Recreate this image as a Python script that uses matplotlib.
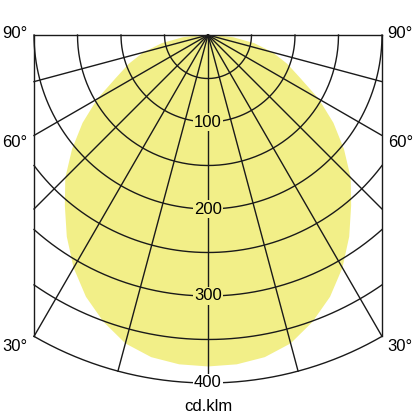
import numpy as np
import matplotlib.pyplot as plt

plt.rcParams['font.family'] = ['Liberation Sans', 'DejaVu Sans']

# luminous intensity (cd/klm) vs angle from nadir, symmetric C-planes
angles = [0, 5, 10, 15, 20, 25, 30, 35, 40, 45, 50, 55, 60, 65, 70, 75, 80, 85, 90]
intensity = [381, 380, 376, 367, 351, 332, 309, 283, 256, 232, 204, 176, 147, 117, 97, 77, 54, 29, 6]

ring_values = [50, 100, 150, 200, 250, 300, 350, 400]
ring_labels = [100, 200, 300, 400]
radial_angles = [0, 15, 30, 45, 60, 75]
side_labels = ['90°', '60°', '30°']
side_label_angles = [90, 60, 30]
unit_label = 'cd.klm'

r_max = 400
half_width = 200  # frame clipped at |x| = r_max * sin(30°)
line_col = '#1a1a1a'
fill_col = '#f2ef88'

fig = plt.figure(figsize=(4.16, 4.16), dpi=100)
ax = fig.add_axes([0, 0, 1, 1])
ax.set_xlim(-239.1, 239.1)
ax.set_ylim(437.9, -40.2)
ax.set_aspect('equal')
ax.axis('off')

# light distribution curve
th = np.radians(angles)
r = np.array(intensity, dtype=float)
xs = np.concatenate([-(r * np.sin(th))[::-1], r * np.sin(th)])
ys = np.concatenate([(r * np.cos(th))[::-1], r * np.cos(th)])
ax.fill(xs, ys, color=fill_col, lw=0, zorder=1)

# rings
for rv in ring_values:
    tmax = np.pi / 2 if rv <= half_width else np.arcsin(half_width / rv)
    t = np.linspace(-tmax, tmax, 200)
    ax.plot(rv * np.sin(t), rv * np.cos(t), color=line_col, lw=1.0, zorder=2)

# radial lines
for a in radial_angles:
    t = np.radians(a)
    rend = r_max if a == 0 else min(r_max, half_width / np.sin(t))
    for s in ([1] if a == 0 else [-1, 1]):
        ax.plot([0, s * rend * np.sin(t)], [0, rend * np.cos(t)], color=line_col, lw=1.0, zorder=2)

# frame: top line and side edges
corner_y = r_max * np.cos(np.arcsin(half_width / r_max))
ax.plot([-half_width, half_width], [0, 0], color=line_col, lw=1.0, zorder=2)
for s in [-1, 1]:
    ax.plot([s * half_width, s * half_width], [0, corner_y], color=line_col, lw=1.0, zorder=2)

# ring labels
for v in ring_labels:
    bg = fill_col if v < 400 else 'white'
    ax.text(0, v, str(v), ha='center', va='center', fontsize=12, zorder=3,
            bbox=dict(boxstyle='square,pad=0.08', fc=bg, ec='none'))

# angle labels on both sides
label_y = {90: -1.7, 60: 124, 30: 357.5}
for lab, a in zip(side_labels, side_label_angles):
    ax.text(-222, label_y[a], lab, ha='center', va='center', fontsize=12)
    ax.text(221, label_y[a], lab, ha='center', va='center', fontsize=12)

ax.text(0, 427, unit_label, ha='center', va='center', fontsize=12)

fig.savefig('out.png', dpi=100)
